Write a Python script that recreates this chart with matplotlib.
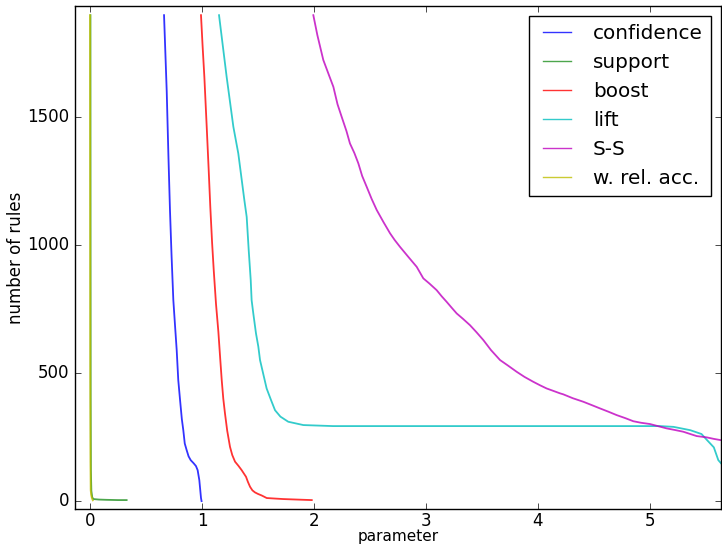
import matplotlib
matplotlib.use("Agg")
import matplotlib.pyplot as plt

plt.style.use("classic")

# ---- data ----
conf_x = [0.661, 0.685, 0.700, 0.714, 0.728, 0.744, 0.760, 0.774, 0.788, 0.804,
          0.820, 0.833, 0.846, 0.863, 0.880, 0.899, 0.925, 0.946, 0.961, 0.976,
          0.985, 0.991, 0.996]
conf_y = [1898, 1600, 1350, 1137, 960, 785, 680, 590, 473, 395,
          320, 277, 225, 199, 175, 160, 148, 137, 121, 82,
          40, 12, 0]

supp_x = [0.004, 0.005, 0.006, 0.008, 0.012, 0.020, 0.030, 0.080, 0.150, 0.250, 0.327]
supp_y = [1898, 1000, 400, 120, 40, 15, 8, 6, 5, 4, 4]

boost_x = [0.991, 1.005, 1.021, 1.042, 1.060, 1.074, 1.090, 1.105, 1.125, 1.146,
           1.162, 1.176, 1.190, 1.205, 1.225, 1.250, 1.270, 1.295, 1.325, 1.354,
           1.393, 1.410, 1.429, 1.450, 1.473, 1.500, 1.533, 1.578, 1.650, 1.726,
           1.850, 1.980]
boost_y = [1898, 1780, 1657, 1462, 1290, 1150, 1010, 900, 770, 662,
           560, 473, 400, 343, 275, 212, 180, 154, 138, 121,
           95, 75, 56, 42, 34, 28, 22, 12, 10, 8,
           6, 4]

lift_x = [1.152, 1.220, 1.280, 1.324, 1.378, 1.399, 1.417, 1.435, 1.443, 1.458,
          1.482, 1.503, 1.518, 1.577, 1.616, 1.652, 1.700, 1.770, 1.905, 2.170,
          2.770, 3.500, 4.200, 4.800, 5.090, 5.210, 5.360, 5.460, 5.510, 5.570,
          5.610, 5.650]
lift_y = [1898, 1657, 1462, 1358, 1176, 1110, 980, 863, 785, 733,
          655, 603, 551, 440, 395, 355, 330, 310, 297, 293,
          293, 293, 293, 293, 293, 290, 277, 262, 238, 210,
          160, 140]

ss_x = [1.994, 2.030, 2.083, 2.130, 2.173, 2.210, 2.247, 2.290, 2.321, 2.360,
        2.396, 2.430, 2.470, 2.515, 2.560, 2.620, 2.679, 2.720, 2.768, 2.840,
        2.917, 2.976, 3.030, 3.095, 3.140, 3.185, 3.230, 3.274, 3.330, 3.393,
        3.450, 3.512, 3.580, 3.661, 3.730, 3.810, 3.880, 3.958, 4.020, 4.077,
        4.140, 4.196, 4.226, 4.310, 4.405, 4.480, 4.554, 4.630, 4.702, 4.780,
        4.851, 4.920, 5.000, 5.070, 5.149, 5.220, 5.297, 5.360, 5.417, 5.506,
        5.570, 5.634]
ss_y = [1898, 1820, 1723, 1668, 1618, 1550, 1501, 1445, 1397, 1360,
        1319, 1270, 1228, 1180, 1137, 1090, 1046, 1020, 993, 955,
        915, 870, 850, 824, 800, 778, 755, 733, 712, 687,
        660, 629, 590, 551, 530, 505, 485, 466, 452, 440,
        430, 421, 417, 402, 388, 375, 362, 349, 336, 324,
        312, 306, 301, 293, 284, 278, 271, 262, 254, 249,
        243, 238]

wra_x = [0.000, 0.001, 0.002, 0.004, 0.006, 0.010, 0.015, 0.020, 0.025]
wra_y = [1898, 1200, 500, 150, 43, 25, 15, 8, 3]

series = [
    ("confidence", conf_x, conf_y, "b", 0.8),
    ("support", supp_x, supp_y, "g", 0.7),
    ("boost", boost_x, boost_y, "r", 0.8),
    ("lift", lift_x, lift_y, "c", 0.8),
    ("S-S", ss_x, ss_y, "m", 0.8),
    ("w. rel. acc.", wra_x, wra_y, "y", 0.8),
]

fig = plt.figure(figsize=(7.22, 5.47), dpi=100, facecolor="white")
ax = fig.add_axes([75 / 722, 37.7 / 547, 646 / 722, 503.6 / 547])

for label, xs, ys, col, a in series:
    ax.plot(xs, ys, color=col, alpha=a, lw=1.3, label=label)

ax.set_xlim(-0.134, 5.634)
ax.set_ylim(-32, 1935)
ax.set_xticks([0, 1, 2, 3, 4, 5])
ax.set_yticks([0, 500, 1000, 1500])
ax.set_ylabel("number of rules", fontsize=12, labelpad=1.5)
ax.tick_params(labelsize=12)
ax.tick_params(axis="x", pad=2)
ax.set_xlabel("parameter", fontsize=11, labelpad=-1)

leg = ax.legend(loc="upper right", fontsize=14.4, fancybox=False)
leg.get_frame().set_edgecolor("black")
for h in leg.get_lines():
    h.set_linewidth(1.0)

fig.savefig("out.png", dpi=100, facecolor="white")
